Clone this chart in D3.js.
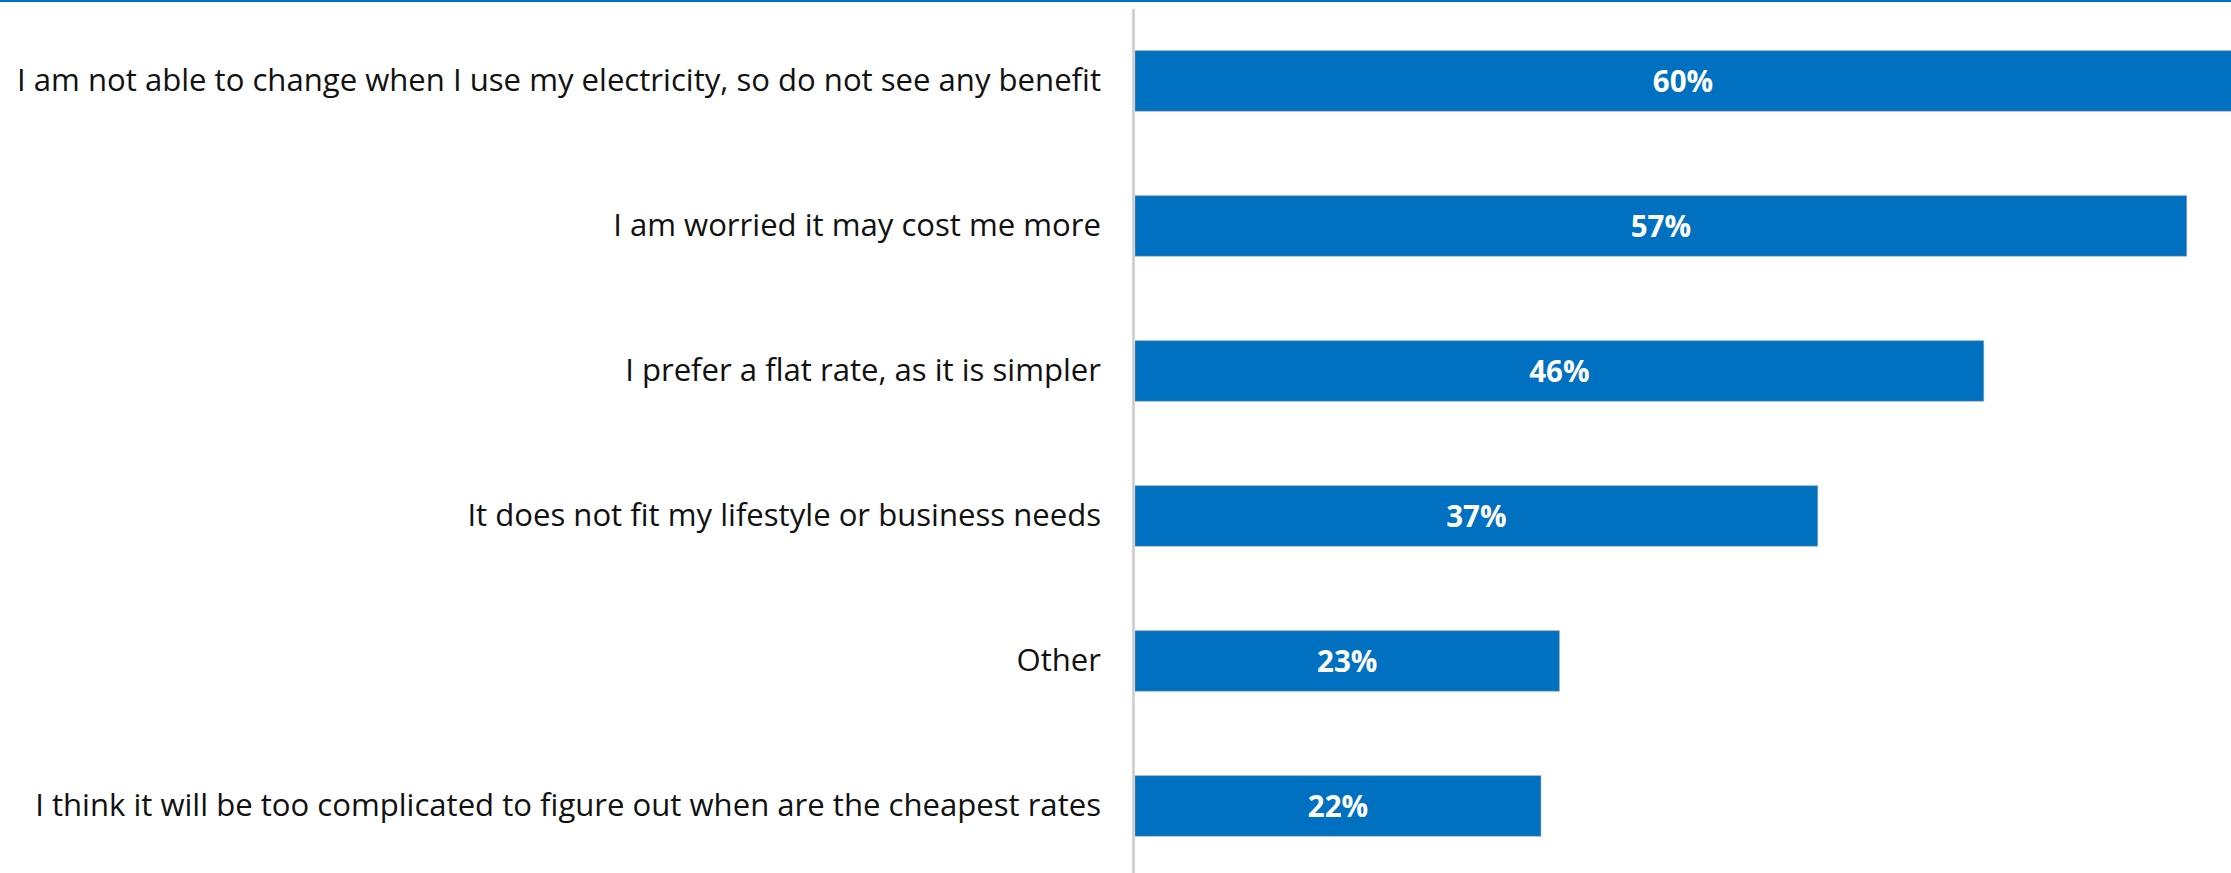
<!DOCTYPE html>
<html>
<head>
<meta charset="utf-8">
<script src="https://cdn.jsdelivr.net/npm/d3@7/dist/d3.min.js"></script>
<style>
  html, body { margin: 0; padding: 0; background: #fff; }
  svg { display: block; }
</style>
</head>
<body>
<svg id="chart"></svg>
<script>
// Reasons given for not switching to a time-of-use tariff
const categories = [
  "I am not able to change when I use my electricity, so do not see any benefit",
  "I am worried it may cost me more",
  "I prefer a flat rate, as it is simpler",
  "It does not fit my lifestyle or business needs",
  "Other",
  "I think it will be too complicated to figure out when are the cheapest rates"
];
const values = [60, 57, 46, 37, 23, 22];
const valueLabels = ["60%", "57%", "46%", "37%", "23%", "22%"];

const W = 2231, H = 873;
const x0 = 1135;
const BLUE = "#0070C0";
const FONT = "'Open Sans', 'Noto Sans', sans-serif";

const svg = d3.select("#chart").attr("width", W).attr("height", H);

// Clip so the longest bar is cut at the plot's right edge
svg.append("defs").append("clipPath").attr("id", "plot-clip")
  .append("rect").attr("x", x0).attr("y", 0).attr("width", W - x0).attr("height", H);

const x = d3.scaleLinear().domain([0, 60]).range([x0, x0 + 60 * 18.45]);
const y = d3.scaleBand().domain(categories).range([21.7, 865.2])
  .paddingInner(0.583).paddingOuter(0.2);

// Thin accent rule across the top
svg.append("rect").attr("x", 0).attr("y", 0).attr("width", W).attr("height", 2).attr("fill", BLUE);

// Bars
const data = categories.map((c, i) => ({ c, v: values[i], label: valueLabels[i] }));
svg.append("g").attr("clip-path", "url(#plot-clip)")
  .selectAll("rect").data(data).join("rect")
  .attr("x", x(0))
  .attr("y", d => y(d.c))
  .attr("width", d => x(d.v) - x(0))
  .attr("height", y.bandwidth())
  .attr("fill", BLUE)
  .attr("stroke", "rgba(140,150,160,0.55)")
  .attr("stroke-width", 1);

// Value labels, centred on the visible part of each bar
svg.append("g").selectAll("text").data(data).join("text")
  .attr("x", d => (x(0) + Math.min(x(d.v), W)) / 2)
  .attr("y", d => y(d.c) + y.bandwidth() / 2)
  .attr("dy", "0.36em")
  .attr("text-anchor", "middle")
  .attr("fill", "#fff")
  .attr("font-family", FONT)
  .attr("font-weight", 700)
  .attr("font-size", 29.5)
  .text(d => d.label);

// Category axis
const axis = d3.axisLeft(y).tickSize(0).tickPadding(34);
const gAxis = svg.append("g").attr("transform", `translate(${x0},0)`).call(axis);
gAxis.select(".domain").remove();
gAxis.selectAll("text")
  .attr("font-family", FONT)
  .attr("font-size", 31.1)
  .attr("fill", "#111");

// Vertical baseline
svg.append("line")
  .attr("x1", x0 - 1.5).attr("x2", x0 - 1.5)
  .attr("y1", 9).attr("y2", H)
  .attr("stroke", "#cccccc").attr("stroke-width", 2.6);
</script>
</body>
</html>
